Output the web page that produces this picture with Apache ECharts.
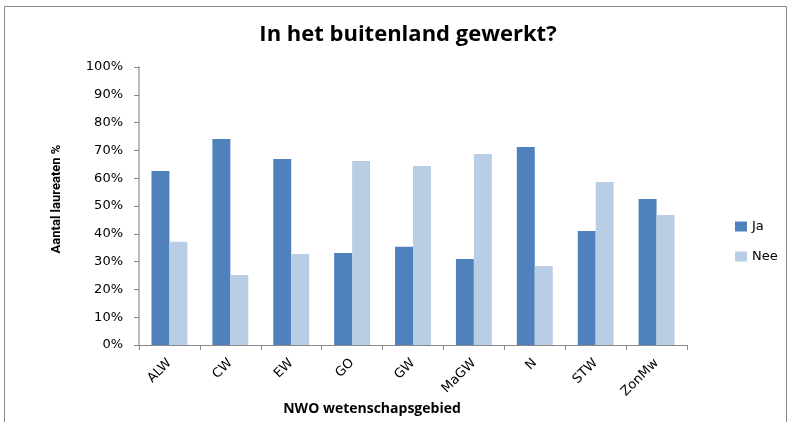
<!DOCTYPE html>
<html>
<head>
<meta charset="utf-8">
<script src="https://cdn.jsdelivr.net/npm/echarts@6/dist/echarts.min.js"></script>
<style>
  html, body { margin: 0; padding: 0; background: #fff; }
  #chart { width: 792px; height: 422px; }
</style>
</head>
<body>
<div id="chart"></div>
<script>
// categorieën en waarden
const categories = ['ALW', 'CW', 'EW', 'GO', 'GW', 'MaGW', 'N', 'STW', 'ZonMw']
const ja = [62.6, 74.1, 66.9, 33.1, 35.3, 30.9, 71.2, 41.0, 52.5]
const nee = [37.1, 25.2, 32.7, 66.2, 64.4, 68.7, 28.4, 58.6, 46.8]
const seriesNames = ['Ja', 'Nee']

const myChart = echarts.init(document.getElementById('chart'))

const option = {
  animation: false,
  title: {
    text: 'In het buitenland gewerkt?',
    left: 403,
    textAlign: 'center',
    top: 19,
    textStyle: { fontFamily: 'Open Sans', fontSize: 22, fontWeight: 'bold', color: '#000' },
  },
  legend: {
    data: seriesNames,
    orient: 'vertical',
    left: 730,
    top: 215,
    itemWidth: 12,
    itemHeight: 10,
    itemGap: 17,
    icon: 'rect',
    textStyle: { fontFamily: 'DejaVu Sans', fontSize: 13, color: '#000' },
  },
  grid: { left: 139, right: 105, top: 67, bottom: 77 },
  xAxis: {
    type: 'category',
    data: categories,
    axisLine: { lineStyle: { color: '#888', width: 1 } },
    axisTick: { show: true, length: 5, lineStyle: { color: '#888' } },
    axisLabel: {
      rotate: 45,
      fontFamily: 'DejaVu Sans',
      fontSize: 13,
      color: '#000',
      margin: 16,
    },
  },
  yAxis: {
    type: 'value',
    min: 0,
    max: 100,
    interval: 10,
    axisLine: { show: true, lineStyle: { color: '#bbb', width: 2 } },
    axisTick: { show: true, inside: false, length: 5, lineStyle: { color: '#888' } },
    splitLine: { show: false },
    axisLabel: {
      formatter: '{value}%',
      fontFamily: 'DejaVu Sans',
      fontSize: 13,
      color: '#000',
      margin: 16,
    },
  },
  graphic: [
    {
      type: 'rect',
      shape: { x: 4.5, y: 6.5, width: 782, height: 430 },
      style: { fill: 'none', stroke: '#888', lineWidth: 1 },
    },
    // y-as titel
    {
      type: 'text',
      x: 57,
      y: 199,
      rotation: Math.PI / 2,
      style: {
        text: 'Aantal laureaten %',
        fontFamily: 'Roboto',
        fontSize: 13,
        fontWeight: 'bold',
        fill: '#000',
        align: 'center',
        verticalAlign: 'middle',
      },
    },
    // x-as titel
    {
      type: 'text',
      x: 372,
      y: 402,
      style: {
        text: 'NWO wetenschapsgebied',
        fontFamily: 'Open Sans',
        fontSize: 14,
        fontWeight: 'bold',
        fill: '#000',
        align: 'center',
      },
    },
  ],
  series: [
    {
      name: 'Ja',
      type: 'bar',
      data: ja,
      barGap: '0%',
      barCategoryGap: '41%',
      itemStyle: { color: '#4F81BD' },
    },
    {
      name: 'Nee',
      type: 'bar',
      data: nee,
      itemStyle: { color: '#B9CDE5' },
    },
  ],
}

myChart.setOption(option)
</script>
</body>
</html>
